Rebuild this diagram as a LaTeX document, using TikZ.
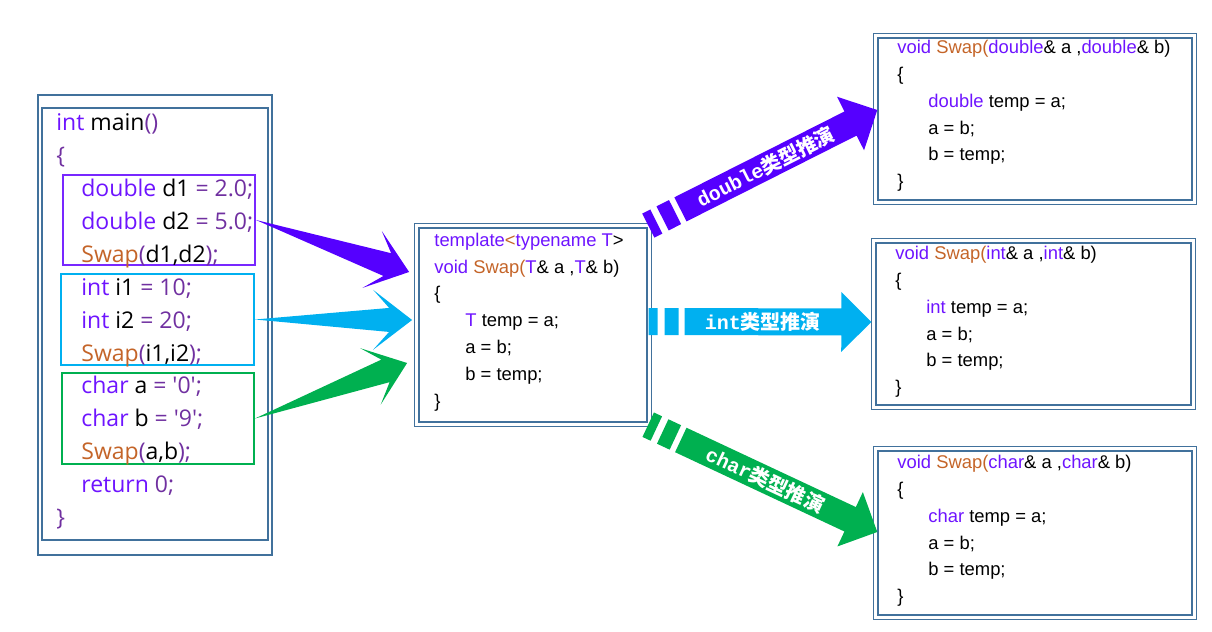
\documentclass[tikz,border=0pt]{standalone}
\usepackage{fontspec}
\setmainfont{Liberation Sans}
\newfontfamily\uifont{Open Sans}
\newfontfamily\lblmono{Liberation Mono}
\newfontfamily\cjk{Noto Sans CJK SC}
\usetikzlibrary{calc, fit}

\definecolor{framec}{RGB}{65,113,156}
\definecolor{apur}{RGB}{85,0,255}
\definecolor{gpur}{RGB}{120,40,255}
\definecolor{acyan}{RGB}{0,176,240}
\definecolor{agreen}{RGB}{0,176,80}
\definecolor{ckwc}{RGB}{110,20,255}
\definecolor{cfnc}{RGB}{196,100,40}
\definecolor{cpnc}{RGB}{112,48,160}

\newcommand{\ckw}[1]{\textcolor{ckwc}{#1}}
\newcommand{\cfn}[1]{\textcolor{cfnc}{#1}}
\newcommand{\cpn}[1]{\textcolor{cpnc}{#1}}
\newcommand{\cind}{\hspace*{15.5pt}}
\newcommand{\lbl}[2]{{\lblmono\bfseries #1}{\cjk\bfseries #2}}

% tapered arrow: colour, tail, tip
\newcommand{\taperarrow}[3]{%
  \fill[#1] (#2) -- ($(#3)!11.5pt!(#2)!6pt!90:(#3)$) -- ($(#3)!19.5pt!(#2)!15pt!90:(#3)$)
    -- (#3) -- ($(#3)!19.5pt!(#2)!15pt!-90:(#3)$) -- ($(#3)!11.5pt!(#2)!6pt!-90:(#3)$) -- cycle;}

% broken arrow with label: colour, tail, tip, label
\newcommand{\typearrow}[4]{%
  \fill[#1] ($(#2)!0pt!(#3)!6.75pt!90:(#3)$) -- ($(#2)!4.5pt!(#3)!6.75pt!90:(#3)$)
    -- ($(#2)!4.5pt!(#3)!6.75pt!-90:(#3)$) -- ($(#2)!0pt!(#3)!6.75pt!-90:(#3)$) -- cycle;
  \fill[#1] ($(#2)!8pt!(#3)!6.75pt!90:(#3)$) -- ($(#2)!15pt!(#3)!6.75pt!90:(#3)$)
    -- ($(#2)!15pt!(#3)!6.75pt!-90:(#3)$) -- ($(#2)!8pt!(#3)!6.75pt!-90:(#3)$) -- cycle;
  \fill[#1] ($(#2)!18pt!(#3)!6.75pt!90:(#3)$) -- ($(#3)!15pt!(#2)!6.75pt!90:(#3)$)
    -- ($(#3)!15pt!(#2)!15pt!90:(#3)$) -- (#3) -- ($(#3)!15pt!(#2)!15pt!-90:(#3)$)
    -- ($(#3)!15pt!(#2)!6.75pt!-90:(#3)$) -- ($(#2)!18pt!(#3)!6.75pt!-90:(#3)$) -- cycle;
  \path ($(#2)!18pt!(#3)$) -- ($(#3)!15pt!(#2)$)
    node[midway, sloped, text=white, font=\fontsize{10}{12}\selectfont] {#4};}

\tikzset{
  frame/.style={draw=framec, line width=0.7pt, inner sep=0pt},
  dframe/.style={frame, double=white, double distance=1.4pt},
  grp/.style={draw=#1, line width=1pt, inner sep=0pt},
  leftcode/.style={align=left, inner sep=0pt, anchor=west, font=\uifont\fontsize{11.5}{16.45}\selectfont},
  rightcode/.style={align=left, inner sep=0pt, anchor=west, font=\fontsize{9.2}{13.4}\selectfont},
}

\begin{document}
\begin{tikzpicture}[x=0.5pt, y=-0.5pt]
\useasboundingbox (0,0) rectangle (1212,632);

% main()
\node[frame, fit={(38,95) (272,555)}] (mainout) {};
\node[frame, fit={(42,108) (268,540)}] (mainin) {};
\node[grp=gpur, fit={(63,175) (255,265)}] (gd) {};
\node[grp=acyan, fit={(61,274) (254,365)}] (gi) {};
\node[grp=agreen, fit={(62,373) (254,464)}] (gc) {};
\node[leftcode] (maintxt) at (56,321.5) {\ckw{int} main\cpn{()}\\
\cpn{\{}\\
\hspace*{12.5pt}\ckw{double} d1 \cpn{= 2.0;}\\
\hspace*{12.5pt}\ckw{double} d2 \cpn{= 5.0;}\\
\hspace*{12.5pt}\cfn{Swap}\cpn{(}d1,d2\cpn{);}\\
\hspace*{12.5pt}\ckw{int} i1 \cpn{= 10;}\\
\hspace*{12.5pt}\ckw{int} i2 \cpn{= 20;}\\
\hspace*{12.5pt}\cfn{Swap}\cpn{(}i1,i2\cpn{);}\\
\hspace*{12.5pt}\ckw{char} a \cpn{= \textquotesingle0\textquotesingle;}\\
\hspace*{12.5pt}\ckw{char} b \cpn{= \textquotesingle9\textquotesingle;}\\
\hspace*{12.5pt}\cfn{Swap}\cpn{(}a,b\cpn{);}\\
\hspace*{12.5pt}\ckw{return} \cpn{0;}\\
\cpn{\}}};

% template
\node[dframe, fit={(416.8,225.8) (649.2,424.2)}] (tpl) {};
\node[rightcode] (tpltxt) at (434,322) {\ckw{template}\cfn{<}\ckw{typename T}>\\
\ckw{void} \cfn{Swap(}\ckw{T}\& a ,\ckw{T}\& b)\\
\{\\
\cind\ckw{T} temp = a;\\
\cind a = b;\\
\cind b = temp;\\
\}};

% instances
\node[dframe, fit={(875.8,35.8) (1194.2,202.2)}] (bdbl) {};
\node[rightcode] (bdbltxt) at (897,116) {\ckw{void} \cfn{Swap(}\ckw{double}\& a ,\ckw{double}\& b)\\
\{\\
\cind\ckw{double} temp = a;\\
\cind a = b;\\
\cind b = temp;\\
\}};
\node[dframe, fit={(873.8,240.8) (1193.2,407.2)}] (bint) {};
\node[rightcode] (binttxt) at (895,322) {\ckw{void} \cfn{Swap(}\ckw{int}\& a ,\ckw{int}\& b)\\
\{\\
\cind\ckw{int} temp = a;\\
\cind a = b;\\
\cind b = temp;\\
\}};
\node[dframe, fit={(875.8,448.8) (1194.2,617.2)}] (bchr) {};
\node[rightcode] (bchrtxt) at (897,531) {\ckw{void} \cfn{Swap(}\ckw{char}\& a ,\ckw{char}\& b)\\
\{\\
\cind\ckw{char} temp = a;\\
\cind a = b;\\
\cind b = temp;\\
\}};

% arrow ends
\coordinate (lh1) at ([shift={(-7,-53)}]tpl.west);
\coordinate (lh2) at ([shift={(-4,-5)}]tpl.west);
\coordinate (lh3) at ([shift={(-9,38)}]tpl.west);
\coordinate (rt1) at ([shift={(-1.6,0.5)}]tpl.north east);
\coordinate (rt2) at ([shift={(-1.2,-3.5)}]tpl.east);
\coordinate (rt3) at ([shift={(-1.7,-0.2)}]tpl.south east);
\coordinate (rh1) at ([shift={(2.2,-9)}]bdbl.west);
\coordinate (rh2) at ([shift={(-1.8,-2)}]bint.west);
\coordinate (rh3) at ([shift={(2.2,-1)}]bchr.west);

\taperarrow{apur}{gd.east}{lh1}
\taperarrow{acyan}{gi.east}{lh2}
\taperarrow{agreen}{gc.east}{lh3}

\typearrow{apur}{rt1}{rh1}{\lbl{double}{类型推演}}
\typearrow{acyan}{rt2}{rh2}{\lbl{int}{类型推演}}
\typearrow{agreen}{rt3}{rh3}{\lbl{char}{类型推演}}
\end{tikzpicture}
\end{document}
